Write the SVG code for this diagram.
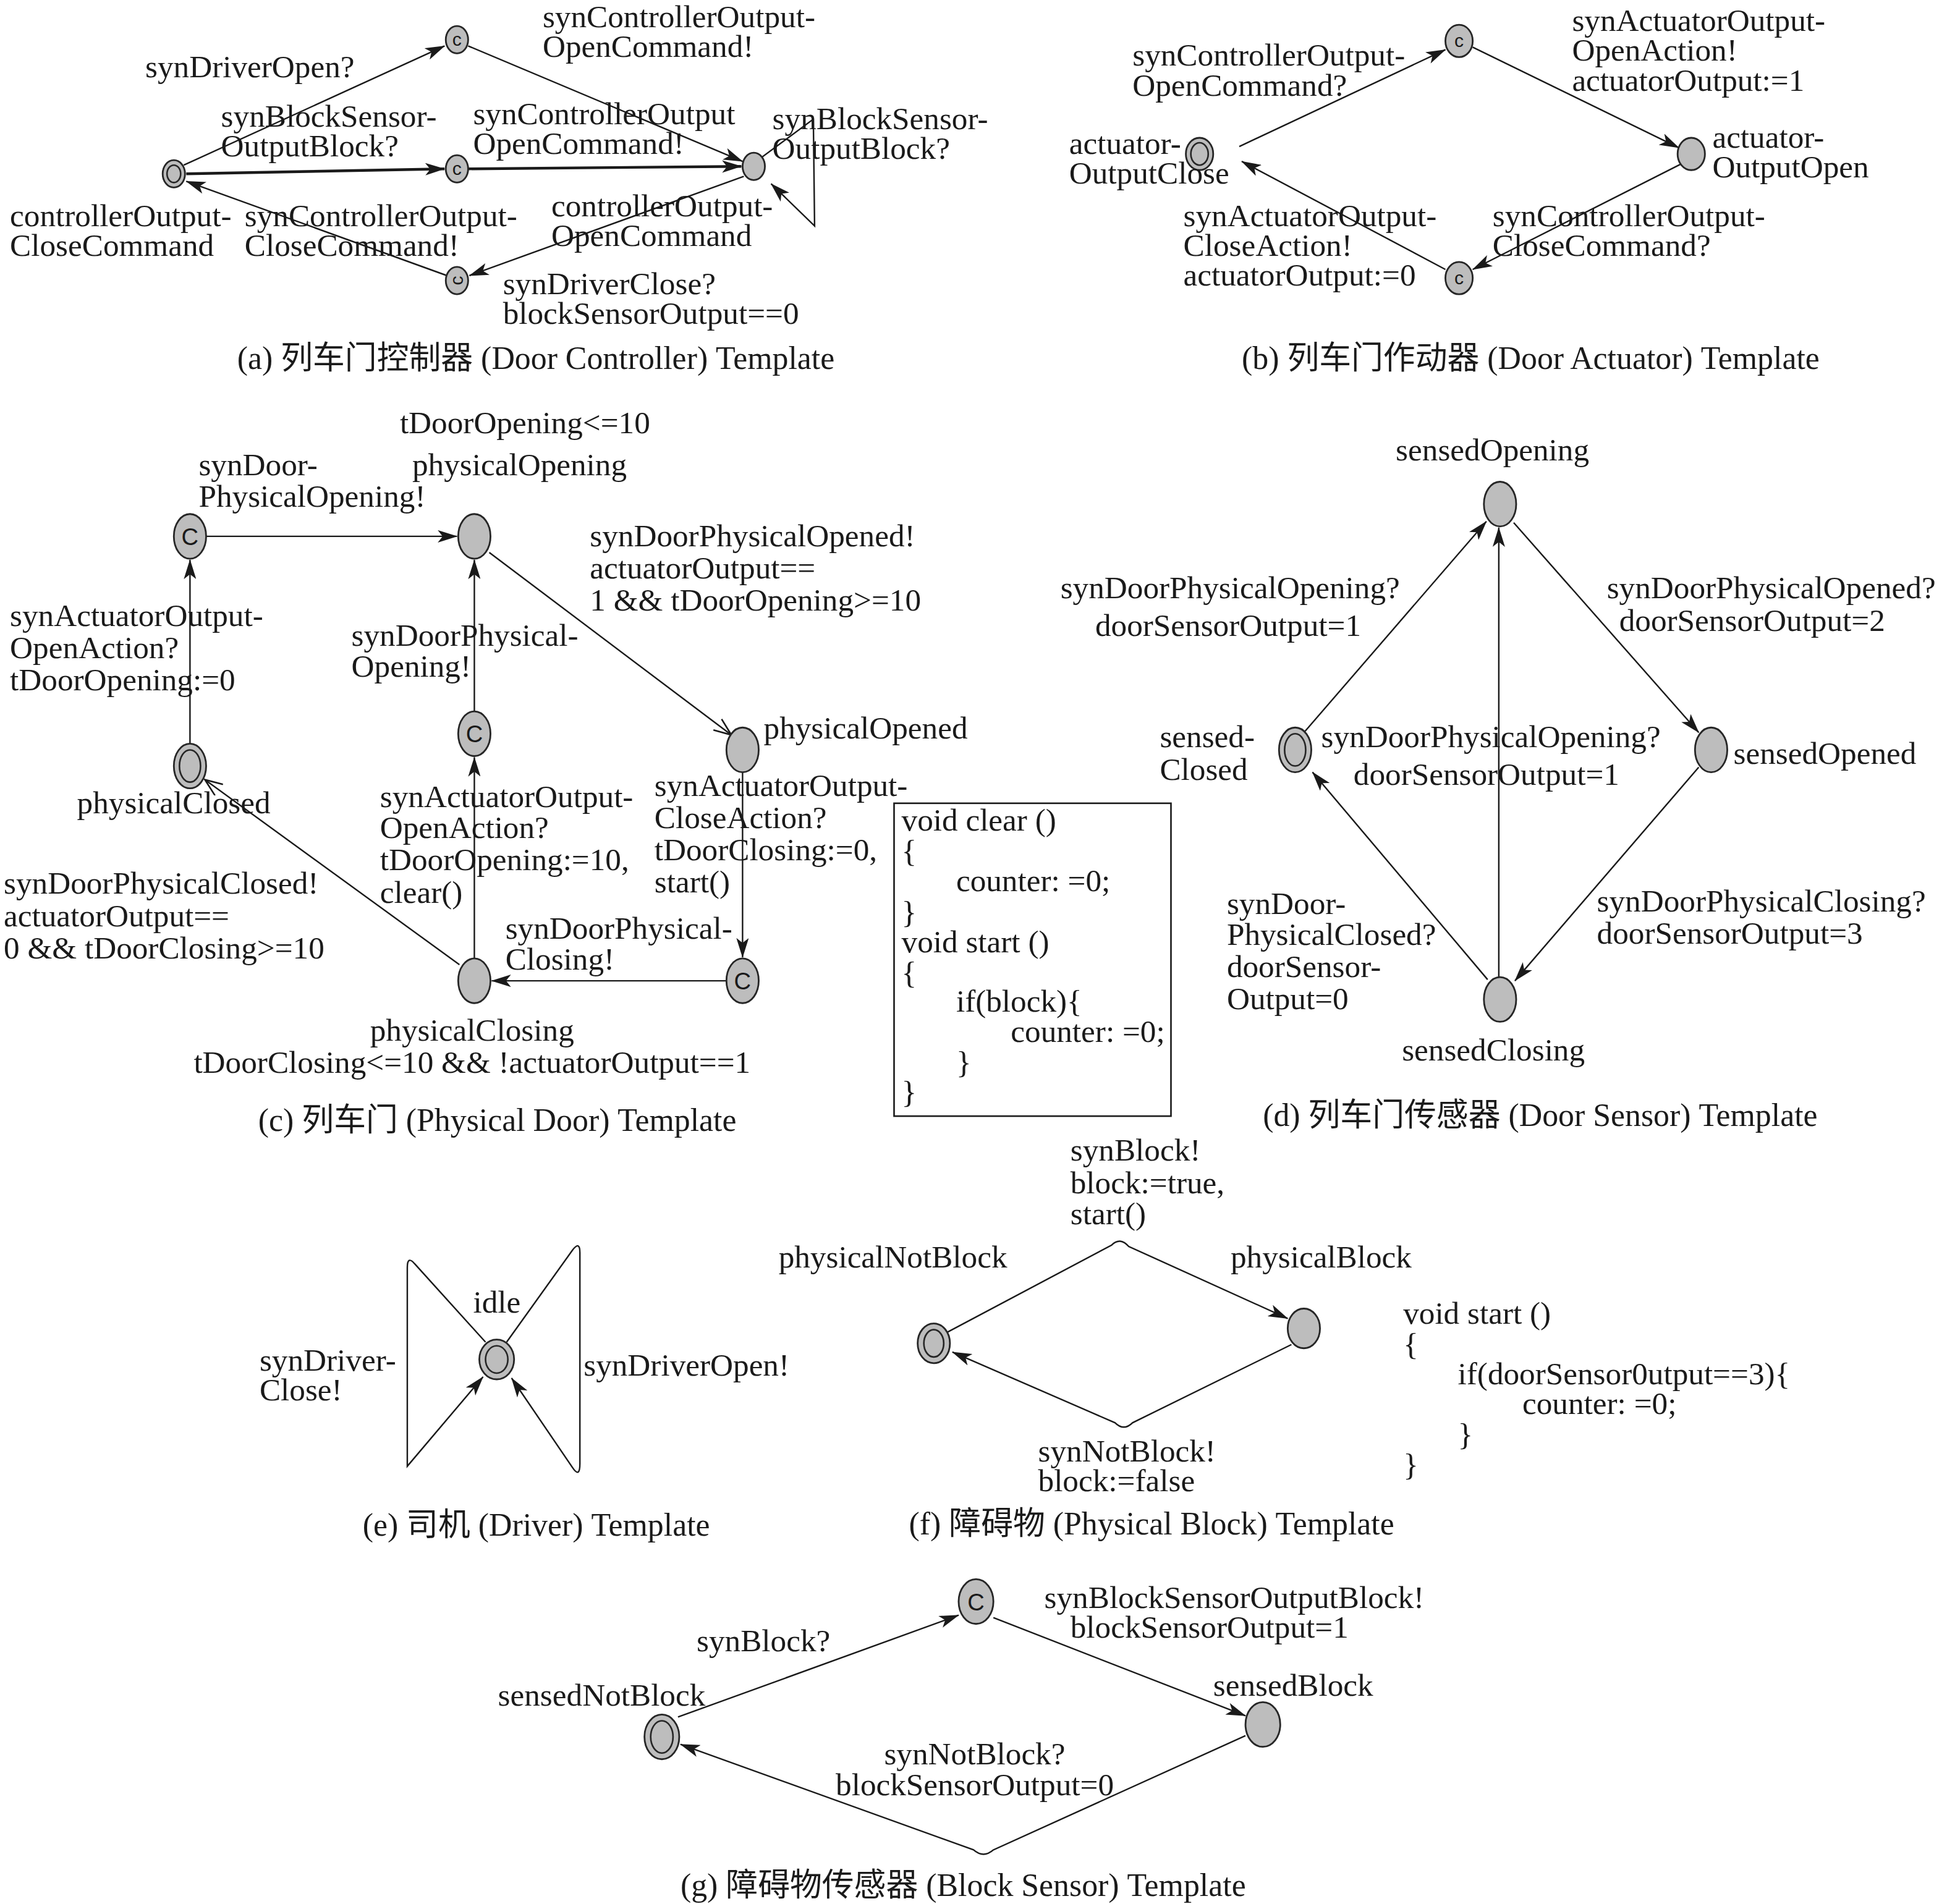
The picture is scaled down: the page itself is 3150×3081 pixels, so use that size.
<svg xmlns="http://www.w3.org/2000/svg" width="3150" height="3081" viewBox="0 0 3150 3081">
<defs>
<style>
.n{fill:#bdbdbd;stroke:#262626;stroke-width:1.4}
.ni{fill:none;stroke:#262626;stroke-width:1.3}
.e{fill:none;stroke:#1a1a1a;stroke-width:1.2;marker-end:url(#ah)}
.ew{fill:none;stroke:#1a1a1a;stroke-width:2.2;marker-end:url(#ah)}
.eo{fill:none;stroke:#1a1a1a;stroke-width:1.2;marker-end:url(#ao)}
.t{font-family:"Liberation Serif","Noto Sans CJK SC",serif;font-size:25.5px;fill:#1a1a1a}
.cap{font-family:"Liberation Serif","Noto Sans CJK SC",serif;font-size:25.8px;fill:#1a1a1a}
.c{font-family:"Liberation Sans",sans-serif;font-size:15px;fill:#1a1a1a;text-anchor:middle}
.cb{font-family:"Liberation Sans",sans-serif;font-size:19px;fill:#1a1a1a;text-anchor:middle}
</style>
<marker id="ah" markerWidth="16" markerHeight="10" refX="15.5" refY="5" orient="auto" markerUnits="userSpaceOnUse">
<path d="M0,0 L16,5 L0,10 L4,5 z" fill="#1a1a1a"/>
</marker>
<marker id="ao" markerWidth="16" markerHeight="12" refX="15" refY="6" orient="auto" markerUnits="userSpaceOnUse">
<path d="M1,0.5 L15,6 L1,11.5" fill="none" stroke="#1a1a1a" stroke-width="1.3"/>
</marker>
</defs>
<rect width="3150" height="3081" fill="#ffffff"/>
<g transform="scale(2.009)">

<g id="connectors">
<line class="e" x1="148" y1="133" x2="358" y2="37"/>
<line class="e" x1="377" y1="37" x2="598" y2="130"/>
<line class="ew" x1="150" y1="140" x2="358" y2="136"/>
<line class="ew" x1="377" y1="136" x2="597" y2="134"/>
<line class="e" x1="599" y1="142" x2="378" y2="222"/>
<line class="e" x1="360" y1="222" x2="150" y2="146"/>
<path class="e" d="M613,127 L655,96 L656,182 L621,148"/>
<line class="e" x1="998" y1="118" x2="1164" y2="40"/>
<line class="e" x1="1186" y1="38" x2="1352" y2="119"/>
<line class="e" x1="1354" y1="132" x2="1186" y2="217"/>
<line class="e" x1="1164" y1="217" x2="1000" y2="130"/>
<line class="e" x1="166" y1="432" x2="368" y2="432"/>
<line class="eo" x1="394" y1="445" x2="589" y2="592"/>
<line class="e" x1="598" y1="622" x2="598" y2="771"/>
<line class="e" x1="585" y1="790" x2="396" y2="790"/>
<line class="eo" x1="370" y1="777" x2="165" y2="628"/>
<line class="e" x1="153" y1="599" x2="153" y2="451"/>
<line class="e" x1="382" y1="772" x2="382" y2="610"/>
<line class="e" x1="382" y1="573" x2="382" y2="451"/>
<line class="e" x1="1051" y1="589" x2="1197" y2="420"/>
<line class="e" x1="1219" y1="421" x2="1368" y2="590"/>
<line class="e" x1="1368" y1="618" x2="1220" y2="790"/>
<line class="e" x1="1198" y1="789" x2="1057" y2="622"/>
<line class="e" x1="1207" y1="787" x2="1207" y2="425"/>
<path class="e" d="M391,1081 L334,1018 Q328,1011 328,1021 L328,1181 L389,1109"/>
<path class="e" d="M408,1081 L461,1007 Q467,999 467,1009 L467,1179 Q467,1191 461,1182 L412,1110"/>
<path class="e" d="M763,1073 L895,1003 Q902,996 909,1004 L1037,1062"/>
<path class="e" d="M1040,1083 L912,1146 Q905,1153 898,1146 L767,1089"/>
<line class="e" x1="546" y1="1383" x2="772" y2="1301"/>
<line class="e" x1="800" y1="1303" x2="1003" y2="1382"/>
<path class="e" d="M1003,1398 L800,1490 Q792,1497 784,1490 L548,1405"/>
</g>

<g id="a-controllerOutputCloseCommand">
<ellipse class="n" cx="140" cy="140" rx="9" ry="11"/>
<ellipse class="ni" cx="140" cy="140" rx="5.5" ry="7"/>
<text class="t" x="8" y="182">controllerOutput-</text>
<text class="t" x="8" y="206">CloseCommand</text>
</g>
<g id="a-c1"><ellipse class="n" cx="368" cy="32" rx="9" ry="11"/><text class="c" x="368" y="37">c</text></g>
<g id="a-c2"><ellipse class="n" cx="368" cy="136" rx="9" ry="11"/><text class="c" x="368" y="141">c</text></g>
<g id="a-controllerOutputOpenCommand">
<ellipse class="n" cx="607" cy="134" rx="9" ry="11"/>
<text class="t" x="444" y="174">controllerOutput-</text>
<text class="t" x="444" y="198">OpenCommand</text>
</g>
<g id="a-c3"><ellipse class="n" cx="368" cy="226" rx="9" ry="11"/><text class="c" transform="rotate(-90 368 226)" x="368" y="231">c</text></g>
<g id="a-labels">
<text class="t" x="437" y="22">synControllerOutput-</text>
<text class="t" x="437" y="46">OpenCommand!</text>
<text class="t" x="117" y="62">synDriverOpen?</text>
<text class="t" x="178" y="102">synBlockSensor-</text>
<text class="t" x="178" y="126">OutputBlock?</text>
<text class="t" x="381" y="100">synControllerOutput</text>
<text class="t" x="381" y="124">OpenCommand!</text>
<text class="t" x="622" y="104">synBlockSensor-</text>
<text class="t" x="622" y="128">OutputBlock?</text>
<text class="t" x="197" y="182">synControllerOutput-</text>
<text class="t" x="197" y="206">CloseCommand!</text>
<text class="t" x="405" y="237">synDriverClose?</text>
<text class="t" x="405" y="261">blockSensorOutput==0</text>
<text class="cap" x="191" y="297">(a) 列车门控制器 (Door Controller) Template</text>
</g>

<g id="b-actuatorOutputClose">
<ellipse class="n" cx="966" cy="124" rx="11" ry="13"/>
<ellipse class="ni" cx="966" cy="124" rx="7" ry="9"/>
<text class="t" x="861" y="124">actuator-</text>
<text class="t" x="861" y="148">OutputClose</text>
</g>
<g id="b-c1"><ellipse class="n" cx="1175" cy="33" rx="11" ry="13"/><text class="c" x="1175" y="38">c</text></g>
<g id="b-actuatorOutputOpen">
<ellipse class="n" cx="1362" cy="124" rx="11" ry="13"/>
<text class="t" x="1379" y="119">actuator-</text>
<text class="t" x="1379" y="143">OutputOpen</text>
</g>
<g id="b-c2"><ellipse class="n" cx="1175" cy="224" rx="11" ry="13"/><text class="c" x="1175" y="229">c</text></g>
<g id="b-labels">
<text class="t" x="912" y="53">synControllerOutput-</text>
<text class="t" x="912" y="77">OpenCommand?</text>
<text class="t" x="1266" y="25">synActuatorOutput-</text>
<text class="t" x="1266" y="49">OpenAction!</text>
<text class="t" x="1266" y="73">actuatorOutput:=1</text>
<text class="t" x="953" y="182">synActuatorOutput-</text>
<text class="t" x="953" y="206">CloseAction!</text>
<text class="t" x="953" y="230">actuatorOutput:=0</text>
<text class="t" x="1202" y="182">synControllerOutput-</text>
<text class="t" x="1202" y="206">CloseCommand?</text>
<text class="cap" x="1000" y="297">(b) 列车门作动器 (Door Actuator) Template</text>
</g>

<g id="c-c1"><ellipse class="n" cx="153" cy="432" rx="13" ry="18"/><text class="cb" x="153" y="439">C</text></g>
<g id="c-physicalOpening">
<ellipse class="n" cx="382" cy="432" rx="13" ry="18"/>
<text class="t" x="322" y="349">tDoorOpening&lt;=10</text>
<text class="t" x="332" y="383">physicalOpening</text>
</g>
<g id="c-c2"><ellipse class="n" cx="382" cy="591" rx="13" ry="18"/><text class="cb" x="382" y="598">C</text></g>
<g id="c-physicalOpened">
<ellipse class="n" cx="598" cy="604" rx="13" ry="18"/>
<text class="t" x="615" y="595">physicalOpened</text>
</g>
<g id="c-c3"><ellipse class="n" cx="598" cy="790" rx="13" ry="18"/><text class="cb" x="598" y="797">C</text></g>
<g id="c-physicalClosing">
<ellipse class="n" cx="382" cy="790" rx="13" ry="18"/>
<text class="t" x="298" y="838">physicalClosing</text>
<text class="t" x="156" y="864">tDoorClosing&lt;=10 &amp;&amp; !actuatorOutput==1</text>
</g>
<g id="c-physicalClosed">
<ellipse class="n" cx="153" cy="617" rx="13" ry="18"/>
<ellipse class="ni" cx="153" cy="617" rx="8.5" ry="13"/>
<text class="t" x="62" y="655">physicalClosed</text>
</g>
<g id="c-labels">
<text class="t" x="160" y="383">synDoor-</text>
<text class="t" x="160" y="408">PhysicalOpening!</text>
<text class="t" x="475" y="440">synDoorPhysicalOpened!</text>
<text class="t" x="475" y="466">actuatorOutput==</text>
<text class="t" x="475" y="492">1 &amp;&amp; tDoorOpening&gt;=10</text>
<text class="t" x="8" y="504">synActuatorOutput-</text>
<text class="t" x="8" y="530">OpenAction?</text>
<text class="t" x="8" y="556">tDoorOpening:=0</text>
<text class="t" x="283" y="520">synDoorPhysical-</text>
<text class="t" x="283" y="545">Opening!</text>
<text class="t" x="306" y="650">synActuatorOutput-</text>
<text class="t" x="306" y="675">OpenAction?</text>
<text class="t" x="306" y="701">tDoorOpening:=10,</text>
<text class="t" x="306" y="727">clear()</text>
<text class="t" x="527" y="641">synActuatorOutput-</text>
<text class="t" x="527" y="667">CloseAction?</text>
<text class="t" x="527" y="693">tDoorClosing:=0,</text>
<text class="t" x="527" y="719">start()</text>
<text class="t" x="3" y="720">synDoorPhysicalClosed!</text>
<text class="t" x="3" y="746">actuatorOutput==</text>
<text class="t" x="3" y="772">0 &amp;&amp; tDoorClosing&gt;=10</text>
<text class="t" x="407" y="756">synDoorPhysical-</text>
<text class="t" x="407" y="781">Closing!</text>
<text class="cap" x="208" y="911">(c) 列车门 (Physical Door) Template</text>
</g>
<g id="c-code">
<rect x="720" y="647" width="223" height="252" fill="none" stroke="#1a1a1a" stroke-width="1.3"/>
<text class="t" x="726" y="669">void clear ()</text>
<text class="t" x="726" y="694">{</text>
<text class="t" x="770" y="718">counter: =0;</text>
<text class="t" x="726" y="743">}</text>
<text class="t" x="726" y="767">void start ()</text>
<text class="t" x="726" y="792">{</text>
<text class="t" x="770" y="815">if(block){</text>
<text class="t" x="814" y="839">counter: =0;</text>
<text class="t" x="770" y="864">}</text>
<text class="t" x="726" y="888">}</text>
</g>

<g id="d-sensedOpening">
<ellipse class="n" cx="1208" cy="406" rx="13" ry="18"/>
<text class="t" x="1124" y="371">sensedOpening</text>
</g>
<g id="d-sensedClosed">
<ellipse class="n" cx="1043" cy="604" rx="13" ry="18"/>
<ellipse class="ni" cx="1043" cy="604" rx="8.5" ry="13"/>
<text class="t" x="934" y="602">sensed-</text>
<text class="t" x="934" y="628">Closed</text>
</g>
<g id="d-sensedOpened">
<ellipse class="n" cx="1378" cy="604" rx="13" ry="18"/>
<text class="t" x="1396" y="615">sensedOpened</text>
</g>
<g id="d-sensedClosing">
<ellipse class="n" cx="1208" cy="805" rx="13" ry="18"/>
<text class="t" x="1129" y="854">sensedClosing</text>
</g>
<g id="d-labels">
<text class="t" x="854" y="482">synDoorPhysicalOpening?</text>
<text class="t" x="882" y="512">doorSensorOutput=1</text>
<text class="t" x="1294" y="482">synDoorPhysicalOpened?</text>
<text class="t" x="1304" y="508">doorSensorOutput=2</text>
<text class="t" x="1064" y="602">synDoorPhysicalOpening?</text>
<text class="t" x="1090" y="632">doorSensorOutput=1</text>
<text class="t" x="988" y="736">synDoor-</text>
<text class="t" x="988" y="761">PhysicalClosed?</text>
<text class="t" x="988" y="787">doorSensor-</text>
<text class="t" x="988" y="813">Output=0</text>
<text class="t" x="1286" y="734">synDoorPhysicalClosing?</text>
<text class="t" x="1286" y="760">doorSensorOutput=3</text>
<text class="cap" x="1017" y="907">(d) 列车门传感器 (Door Sensor) Template</text>
</g>

<g id="e-idle">
<ellipse class="n" cx="400" cy="1095" rx="14" ry="16"/>
<ellipse class="ni" cx="400" cy="1095" rx="9" ry="11"/>
<text class="t" x="381" y="1057">idle</text>
</g>
<g id="e-labels">
<text class="t" x="209" y="1104">synDriver-</text>
<text class="t" x="209" y="1128">Close!</text>
<text class="t" x="470" y="1108">synDriverOpen!</text>
<text class="cap" x="292" y="1237">(e) 司机 (Driver) Template</text>
</g>

<g id="f-physicalNotBlock">
<ellipse class="n" cx="752" cy="1082" rx="13" ry="16"/>
<ellipse class="ni" cx="752" cy="1082" rx="8" ry="11"/>
<text class="t" x="627" y="1021">physicalNotBlock</text>
</g>
<g id="f-physicalBlock">
<ellipse class="n" cx="1050" cy="1070" rx="13" ry="16"/>
<text class="t" x="991" y="1021">physicalBlock</text>
</g>
<g id="f-labels">
<text class="t" x="862" y="935">synBlock!</text>
<text class="t" x="862" y="961">block:=true,</text>
<text class="t" x="862" y="986">start()</text>
<text class="t" x="836" y="1177">synNotBlock!</text>
<text class="t" x="836" y="1201">block:=false</text>
<text class="t" x="1130" y="1066">void start ()</text>
<text class="t" x="1130" y="1091">{</text>
<text class="t" x="1174" y="1115">if(doorSensor0utput==3){</text>
<text class="t" x="1226" y="1139">counter: =0;</text>
<text class="t" x="1174" y="1164">}</text>
<text class="t" x="1130" y="1188">}</text>
<text class="cap" x="732" y="1236">(f) 障碍物 (Physical Block) Template</text>
</g>

<g id="g-sensedNotBlock">
<ellipse class="n" cx="533" cy="1399" rx="14" ry="18"/>
<ellipse class="ni" cx="533" cy="1399" rx="9" ry="13"/>
<text class="t" x="401" y="1374">sensedNotBlock</text>
</g>
<g id="g-c"><ellipse class="n" cx="786" cy="1290" rx="14" ry="18"/><text class="cb" x="786" y="1297">C</text></g>
<g id="g-sensedBlock">
<ellipse class="n" cx="1017" cy="1389" rx="14" ry="18"/>
<text class="t" x="977" y="1366">sensedBlock</text>
</g>
<g id="g-labels">
<text class="t" x="841" y="1295">synBlockSensorOutputBlock!</text>
<text class="t" x="862" y="1319">blockSensorOutput=1</text>
<text class="t" x="561" y="1330">synBlock?</text>
<text class="t" x="712" y="1421">synNotBlock?</text>
<text class="t" x="673" y="1446">blockSensorOutput=0</text>
<text class="cap" x="548" y="1527">(g) 障碍物传感器 (Block Sensor) Template</text>
</g>

</g>
</svg>
